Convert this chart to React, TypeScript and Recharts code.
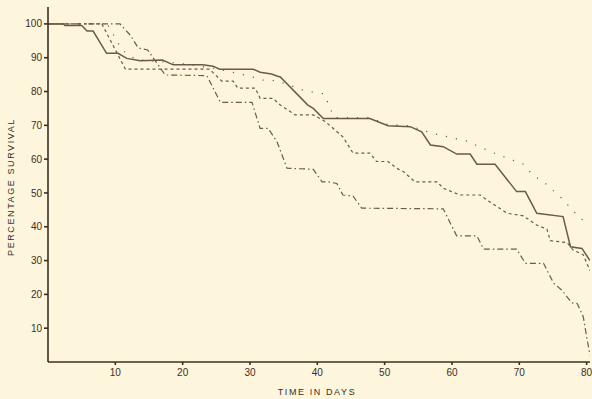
import React from "react";
import { LineChart, Line, XAxis, YAxis } from "recharts";

// Series (day, percentage survival)
const solidDays = [0, 2.3, 2.5, 5.0, 5.8, 6.7, 8.7, 10.4, 11.7, 13.7, 17.0, 18.6, 23.0, 24.5, 25.5, 30.5, 31.5, 33.2, 34.0, 34.5, 38.6, 39.4, 40.9, 47.8, 50.5, 53.8, 55.5, 56.8, 58.7, 60.7, 62.7, 63.7, 66.4, 69.6, 70.9, 72.6, 76.5, 77.6, 79.3, 80.5];
const solidValues = [100, 100, 99.5, 99.5, 97.9, 97.9, 91.3, 91.3, 89.8, 89.1, 89.3, 87.9, 87.9, 87.5, 86.6, 86.6, 85.7, 85.2, 84.6, 84.3, 76, 75, 72, 72, 69.9, 69.6, 68.1, 64.2, 63.7, 61.5, 61.5, 58.5, 58.5, 50.4, 50.4, 44, 43, 34.1, 33.6, 30];

const dashedDays = [0, 8.0, 11.5, 24.0, 25.8, 27.5, 28.2, 30.8, 31.5, 33.4, 34.5, 36.7, 39.4, 41.2, 42.3, 43.8, 45.3, 47.8, 48.8, 50.5, 51.8, 52.8, 54.5, 57.8, 58.7, 61.2, 64.2, 65.2, 68.2, 70.6, 72.6, 74.1, 74.6, 77.1, 78.0, 79.5, 80.5];
const dashedValues = [100, 100, 86.6, 86.6, 83.1, 83.1, 81, 81, 78, 78, 76, 73.1, 73.1, 71.1, 69.2, 66.6, 61.8, 61.8, 59.3, 59.3, 57.3, 56.3, 53.3, 53.3, 51.4, 49.4, 49.4, 47.9, 44, 43.2, 40.5, 39.3, 35.9, 35.3, 33.1, 31.7, 27];

const dashDotDays = [0, 10.7, 12.2, 13.4, 14.8, 17.4, 23.6, 25.6, 30.3, 31.5, 32.7, 34.0, 35.5, 39.4, 40.7, 41.6, 42.9, 43.8, 45.3, 46.6, 58.7, 60.7, 63.7, 64.7, 69.6, 70.9, 73.6, 75.1, 76.3, 77.8, 78.6, 79.5, 80.0, 80.5];
const dashDotValues = [100, 100, 96.7, 92.9, 92.3, 84.9, 84.7, 76.8, 76.8, 69.1, 69.1, 65.2, 57.3, 57, 53.3, 53.3, 52.8, 49.4, 49.1, 45.5, 45.3, 37.3, 37.3, 33.4, 33.4, 29.2, 29.2, 23.3, 21.3, 17.5, 17.3, 13.4, 7.5, 2];

const dottedDays = [0, 8.8, 11.0, 13.0, 20.0, 25.0, 30.0, 31.9, 34.0, 36.7, 38.0, 41.0, 42.5, 47.8, 50.5, 53.8, 55.5, 58.0, 62.1, 66.0, 70.6, 72.1, 73.6, 76.3, 79.0, 80.5];
const dottedValues = [100, 100, 92.3, 89.5, 88.2, 86.8, 84.5, 83.4, 83.2, 81.3, 80.3, 79.3, 72.3, 72.3, 70.2, 69.9, 68.6, 67.2, 65.4, 62, 58.5, 55.1, 53.3, 48.4, 42.5, 41];

const xTicks = [10, 20, 30, 40, 50, 60, 70, 80];
const yTicks = [10, 20, 30, 40, 50, 60, 70, 80, 90, 100];

const toRows = (days: number[], values: number[]) =>
  days.map((d, i) => ({ day: d, value: values[i] }));

const solidData = toRows(solidDays, solidValues);
const dashedData = toRows(dashedDays, dashedValues);
const dashDotData = toRows(dashDotDays, dashDotValues);
const dottedData = toRows(dottedDays, dottedValues);

const INK = "#3b2f25";
const LINE = "#6a5b4b";
const BG = "#fdf5dc";
const FONT = "'Liberation Sans', 'DejaVu Sans', sans-serif";

export default function App() {
  const tickStyle = { fontSize: 10, fill: INK, fontFamily: FONT };
  return (
    <div
      style={{
        position: "absolute",
        left: 0,
        top: 0,
        width: 592,
        height: 399,
        background: BG,
        overflow: "hidden",
      }}
    >
      <LineChart
        width={592}
        height={399}
        margin={{ top: 7, right: 2, bottom: 7, left: 0 }}
      >
        <XAxis
          type="number"
          dataKey="day"
          domain={[0, 80.5]}
          ticks={xTicks}
          allowDataOverflow
          height={30}
          stroke={INK}
          strokeWidth={1.6}
          tickSize={3}
          tickMargin={4}
          tick={tickStyle}
        />
        <YAxis
          type="number"
          dataKey="value"
          domain={[0, 105]}
          ticks={yTicks}
          allowDataOverflow
          width={48}
          stroke={INK}
          strokeWidth={1.6}
          tickSize={4}
          tickMargin={2}
          tick={tickStyle}
        />
        <Line
          data={solidData}
          dataKey="value"
          type="linear"
          stroke={LINE}
          strokeWidth={1.5}
          dot={false}
          isAnimationActive={false}
        />
        <Line
          data={dashedData}
          dataKey="value"
          type="linear"
          stroke={LINE}
          strokeWidth={1.2}
          strokeDasharray="3 3"
          dot={false}
          isAnimationActive={false}
        />
        <Line
          data={dashDotData}
          dataKey="value"
          type="linear"
          stroke={LINE}
          strokeWidth={1.2}
          strokeDasharray="6 3 1.5 3"
          dot={false}
          isAnimationActive={false}
        />
        <Line
          data={dottedData}
          dataKey="value"
          type="linear"
          stroke={LINE}
          strokeWidth={1.2}
          strokeDasharray="1.2 9"
          dot={false}
          isAnimationActive={false}
        />
      </LineChart>
      <div
        style={{
          position: "absolute",
          left: 272,
          top: 387,
          width: 90,
          textAlign: "center",
          fontFamily: FONT,
          fontSize: 9,
          letterSpacing: 1.6,
          color: INK,
          whiteSpace: "nowrap",
        }}
      >
        TIME IN DAYS
      </div>
      <div
        style={{
          position: "absolute",
          left: 11,
          top: 187,
          width: 0,
          height: 0,
          fontFamily: FONT,
          color: INK,
        }}
      >
        <div
          style={{
            position: "absolute",
            left: 0,
            top: 0,
            transform: "translate(-50%, -50%) rotate(-90deg)",
            fontSize: 9,
            letterSpacing: 1.6,
            whiteSpace: "nowrap",
          }}
        >
          PERCENTAGE SURVIVAL
        </div>
      </div>
    </div>
  );
}
